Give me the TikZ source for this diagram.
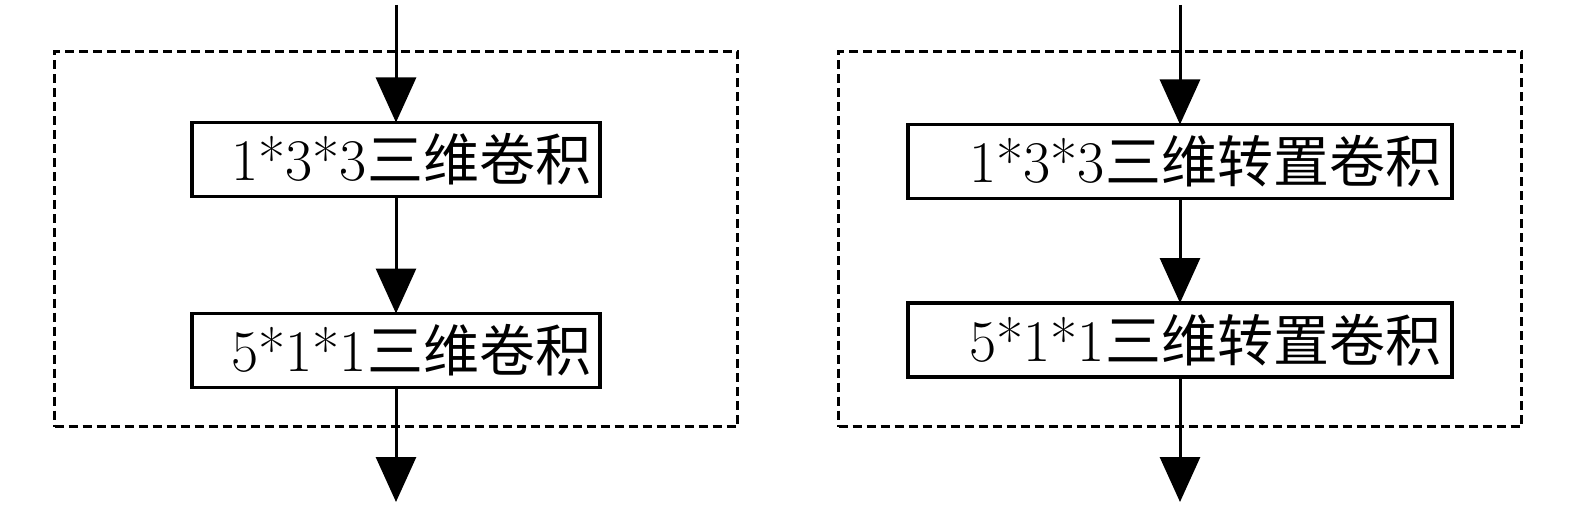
\documentclass[tikz,border=0pt]{standalone}
\usepackage{fontspec}
\newfontfamily\cjk{Noto Sans CJK SC}
\usetikzlibrary{arrows.meta}
\newcommand{\cjktext}[1]{{\fontsize{56}{60}\selectfont\cjk #1}}
\tikzset{
  convbox/.style={draw, line width=3.5pt, outer sep=0pt, minimum height=74pt, inner ysep=0pt, align=right, font=\fontsize{59}{64}\selectfont},
  groupbox/.style={draw, line width=2.2pt, dash pattern=on 9pt off 5pt, minimum width=683pt, minimum height=375pt, inner sep=0pt, outer sep=0pt},
  flow/.style={line width=3pt, -{Triangle[length=45pt, width=40pt]}},
}
\begin{document}
\begin{tikzpicture}[x=1pt,y=-1pt]
\useasboundingbox (0,0) rectangle (1575,508);
% groups
\node[groupbox] (gL) at (396,239) {};
\node[groupbox] (gR) at (1180,239) {};
% left column
\node[convbox, minimum width=408pt, text width=390pt, inner xsep=9pt] (l1) at (396,159.5) {1*3*3\cjktext{三维卷积}};
\node[convbox, minimum width=408pt, text width=390pt, inner xsep=9pt] (l2) at (396,350.5) {5*1*1\cjktext{三维卷积}};
\coordinate (lin) at (396,5);
\coordinate (lout) at (396,502);
\draw[flow] (lin) -- (l1.north);
\draw[flow] (l1.south) -- (l2.north);
\draw[flow] (l2.south) -- (lout);
% right column
\node[convbox, minimum width=544pt, text width=522pt, inner xsep=11pt] (r1) at (1180,161.5) {1*3*3\cjktext{三维转置卷积}};
\node[convbox, minimum width=544pt, text width=522pt, inner xsep=11pt] (r2) at (1180,340) {5*1*1\cjktext{三维转置卷积}};
\coordinate (rin) at (1180,5);
\coordinate (rout) at (1180,502);
\draw[flow] (rin) -- (r1.north);
\draw[flow] (r1.south) -- (r2.north);
\draw[flow] (r2.south) -- (rout);
\end{tikzpicture}
\end{document}
